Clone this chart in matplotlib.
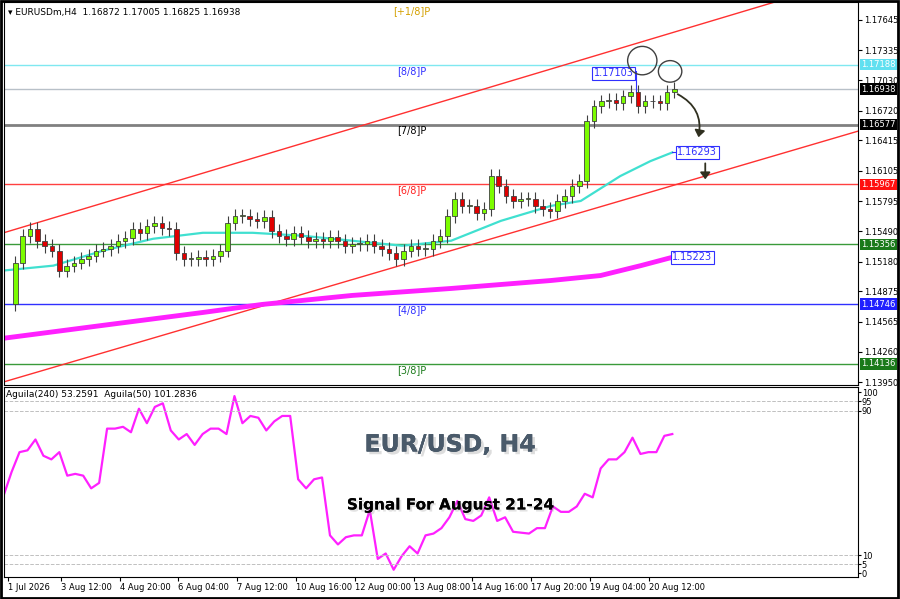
import numpy as np
import matplotlib
matplotlib.use('Agg')
import matplotlib.pyplot as plt
import matplotlib.transforms as mtrans
import matplotlib.patheffects as pe
from matplotlib.patches import Ellipse, FancyArrowPatch

# ===================== data =============================
closes = [1.15169, 1.15443, 1.15514, 1.15392, 1.15341, 1.15291, 1.15088, 1.15138, 1.15169, 1.15209,
          1.15240, 1.15291, 1.15311, 1.15341, 1.15392, 1.15422, 1.15514, 1.15473, 1.15544, 1.15575,
          1.15524, 1.15514, 1.15270, 1.15209, 1.15209, 1.15230, 1.15209, 1.15240, 1.15291, 1.15575,
          1.15646, 1.15646, 1.15615, 1.15595, 1.15636, 1.15494, 1.15443, 1.15412, 1.15473, 1.15432,
          1.15392, 1.15412, 1.15392, 1.15432, 1.15392, 1.15341, 1.15362, 1.15362, 1.15392, 1.15341,
          1.15311, 1.15270, 1.15209, 1.15291, 1.15341, 1.15311, 1.15311, 1.15392, 1.15443, 1.15646,
          1.15818, 1.15747, 1.15747, 1.15676, 1.15717, 1.16052, 1.15950, 1.15849, 1.15798, 1.15818,
          1.15818, 1.15747, 1.15717, 1.15697, 1.15798, 1.15849, 1.15950, 1.16001, 1.16610, 1.16762,
          1.16813, 1.16833, 1.16793, 1.16864, 1.16914, 1.16762, 1.16813, 1.16813, 1.16793, 1.16914,
          1.16938]
first_open = 1.14750

ma_fast_x = [-1.6, 5.2, 12.0, 18.8, 25.6, 32.4, 39.2, 46.0, 52.8, 59.5, 66.3, 73.1, 77.2, 82.6, 86.7, 89.7]
ma_fast = [1.15088, 1.15138, 1.15291, 1.15412, 1.15473, 1.15473, 1.15443, 1.15392, 1.15341, 1.15392,
           1.15595, 1.15747, 1.15798, 1.16052, 1.16204, 1.16293]
ma_slow_x = [-1.6, 12.0, 25.6, 33.7, 46.0, 59.5, 73.1, 79.9, 85.4, 89.7]
ma_slow = [1.14397, 1.14529, 1.14660, 1.14742, 1.14834, 1.14905, 1.14986, 1.15037, 1.15138, 1.15223]

osc = [43, 56, 67, 68, 74, 65, 63, 67, 54, 55, 54, 47, 50, 80, 80, 81, 78, 91, 83, 92, 94, 79, 74, 77,
       71, 77, 80, 80, 77, 98, 83, 87, 86, 79, 84, 87, 87, 52, 47, 52, 53, 21, 16, 20, 21, 21, 35, 8, 11,
       2, 9.5, 15, 11, 21, 22, 25, 31, 40, 30, 29, 32, 42, 29, 31, 23, 22.5, 22, 25, 25, 37, 34, 34, 37,
       44, 42, 58, 63, 63, 67, 75, 66, 67, 67, 76, 77]

levels = [1.17188, 1.16938, 1.16577, 1.15967, 1.15356, 1.14746, 1.14136]
level_colors = ['#7fe8f0', '#b8c0c8', '#808080', '#ff4040', '#3a9a3a', '#3030ff', '#3a9a3a']
level_box = ['#60e0f0', 'black', 'black', '#ff1010', '#1a7a1a', '#2020ff', '#1a7a1a']
price_ticks = [1.17645, 1.17335, 1.17030, 1.16720, 1.16415, 1.16105, 1.15795, 1.15490, 1.15180,
               1.14875, 1.14565, 1.14260, 1.13950]
murray_labels = ['[+1/8]P', '[8/8]P', '[7/8]P', '[6/8]P', '[4/8]P', '[3/8]P']
murray_prices = [1.17798, 1.17188, 1.16577, 1.15967, 1.14746, 1.14136]
murray_colors = ['#d4a000', '#3030ff', 'black', '#ff2020', '#3030ff', '#1a7a1a']
date_labels = ['1 Jul 2026', '3 Aug 12:00', '4 Aug 20:00', '6 Aug 04:00', '7 Aug 12:00', '10 Aug 16:00',
               '12 Aug 00:00', '13 Aug 08:00', '14 Aug 16:00', '17 Aug 20:00', '19 Aug 04:00', '20 Aug 12:00']

# ===================== drawing =============================
fig = plt.figure(figsize=(9, 5.99), dpi=100)
ax = fig.add_axes([0.004, 1 - 385 / 599, 854 / 900, 383 / 599])
ax2 = fig.add_axes([0.004, 22 / 599, 854 / 900, 190 / 599], sharex=ax)

n = len(closes)
opens = [first_open] + closes[:-1]
for i in range(n):
    o, c = opens[i], closes[i]
    up = c >= o
    lo, hi = min(o, c), max(o, c)
    ax.vlines(i, lo - 0.0007, hi + 0.0007, color='#404040', lw=0.8, zorder=3)
    h = max(hi - lo, 0.00008)
    ax.bar(i, h, bottom=lo, width=0.62, color='#7cfc00' if up else '#e00000',
           edgecolor='#404040', lw=0.6, zorder=4)

ax.plot(ma_fast_x, ma_fast, color='#40e0d0', lw=1.6, zorder=2)
ax.plot(ma_slow_x, ma_slow, color='#ff20ff', lw=3.5, zorder=2)

for lv, col in zip(levels, level_colors):
    ax.axhline(lv, color=col, lw=2 if lv == 1.16577 else 1, zorder=1)

# channel
ax.plot([-1.6, 103.7], [1.15473, 1.17828], color='#ff3030', lw=1, zorder=1)
ax.plot([-1.6, 115], [1.13951, 1.16509], color='#ff3030', lw=1, zorder=1)

for lab, p, col in zip(murray_labels, murray_prices, murray_colors):
    ax.text(54.1, p - 0.0001, lab, color=col, fontsize=7, va='top', ha='center')

ax.set_xlim(-1.6, 115)
ax.set_ylim(1.13920, 1.17828)
ax.yaxis.tick_right()
ax.set_yticks(price_ticks)
ax.set_yticklabels(['%.5f' % t for t in price_ticks], fontsize=6)
ax.tick_params(axis='x', bottom=False, labelbottom=False)
ax.tick_params(axis='y', length=3, pad=2)

trans = mtrans.blended_transform_factory(ax.transAxes, ax.transData)
for lv, bc in zip(levels, level_box):
    ax.text(1.004, lv, '%.5f' % lv, transform=trans, fontsize=6, color='white', va='center', ha='left',
            bbox=dict(boxstyle='square,pad=0.15', fc=bc, ec='none'), zorder=10)

# annotations
def boxlab(x, y, s):
    ax.text(x, y, s, fontsize=7, color='#3030ff', va='center', ha='left',
            bbox=dict(boxstyle='square,pad=0.15', fc='white', ec='#3030ff', lw=0.8), zorder=8)

boxlab(79.0, 1.17103, '1.17103')
boxlab(90.4, 1.16293, '1.16293')
boxlab(89.7, 1.15223, '1.15223')
ax.plot([84.8, 84.8, 83.5], [1.16900, 1.17120, 1.17120], color='#3030ff', lw=0.8)
ax.plot([89.7, 90.4], [1.16293, 1.16293], color='#3030ff', lw=0.8)
ax.add_patch(Ellipse((85.6, 1.17230), 4.0, 0.0029, fill=False, ec='#404040', lw=1, zorder=9))
ax.add_patch(Ellipse((89.4, 1.17120), 3.2, 0.0022, fill=False, ec='#404040', lw=1, zorder=9))
ax.add_patch(FancyArrowPatch((90.1, 1.16900), (93.2, 1.16420), connectionstyle='arc3,rad=-0.4',
                             arrowstyle='-|>,head_length=4,head_width=3', color='#303020', lw=1.3, zorder=9))
ax.add_patch(FancyArrowPatch((94.2, 1.16210), (94.2, 1.15990),
                             arrowstyle='-|>,head_length=4,head_width=3', color='#303020', lw=1.3, zorder=9))
ax.text(0.005, 0.985, '\u25be EURUSDm,H4  1.16872 1.17005 1.16825 1.16938', transform=ax.transAxes,
        fontsize=6.5, va='top', ha='left')

# oscillator
ax2.plot(np.linspace(-1.6, 89.7, len(osc)), osc, color='#ff20ff', lw=1.6)
for lv in [95, 90, 10, 5]:
    ax2.axhline(lv, color='#c0c0c0', ls='--', lw=0.7)
ax2.set_ylim(-2, 103)
ax2.yaxis.tick_right()
ax2.set_yticks([100, 95, 90, 10, 5, 0])
ax2.set_yticklabels(['100', '95', '90', '10', '5', '0'], fontsize=6)
ax2.tick_params(axis='y', length=2, pad=1)
ax2.text(0.003, 0.985, 'Aguila(240) 53.2591  Aguila(50) 101.2836', transform=ax2.transAxes,
         fontsize=6.5, va='top')
tick_pos = [-1.0] + [6.2 + 8.03 * k for k in range(len(date_labels) - 1)]
ax2.set_xticks(tick_pos)
ax2.set_xticklabels(date_labels, fontsize=6, ha='left')
ax2.tick_params(axis='x', length=3, pad=1)

fig.text(0.5, 0.258, 'EUR/USD, H4', ha='center', va='center', fontsize=17, fontweight='bold',
         color='#4a5a6a', path_effects=[pe.withStroke(linewidth=3, foreground='white'),
                                         pe.withSimplePatchShadow(offset=(2, -2), shadow_rgbFace='#909090'),
                                         pe.Normal()])
fig.text(0.5, 0.157, 'Signal For August 21-24', ha='center', va='center', fontsize=11, fontweight='bold',
         color='black', path_effects=[pe.withSimplePatchShadow(offset=(1.5, -1.5), shadow_rgbFace='#a0a0a0'),
                                      pe.Normal()])

fig.patches.append(plt.Rectangle((0.001, 0.002), 0.997, 0.996, transform=fig.transFigure,
                                 fill=False, ec='black', lw=2))
fig.savefig('out.png', dpi=100)
